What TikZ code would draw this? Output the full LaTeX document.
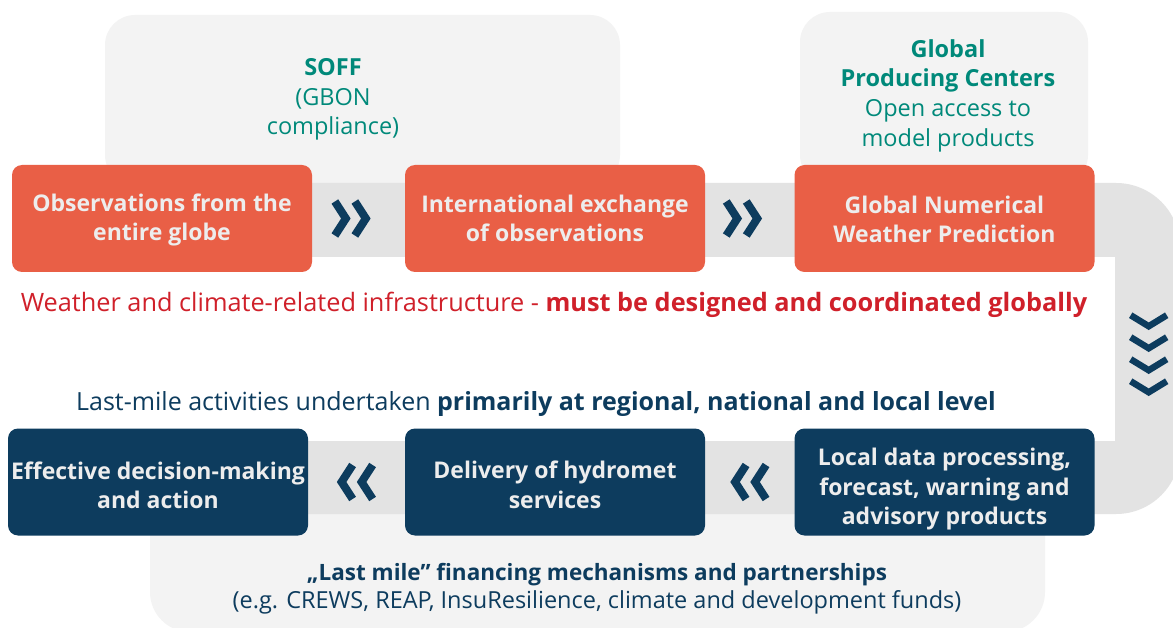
\documentclass[tikz,border=0pt]{standalone}
\usepackage{fontspec}
\setmainfont{Open Sans}
\usetikzlibrary{calc}
\definecolor{orng}{HTML}{E95F46}
\definecolor{navy}{HTML}{0D3C5E}
\definecolor{soffteal}{HTML}{00897A}
\definecolor{panelgrey}{HTML}{F3F3F3}
\definecolor{bandgrey}{HTML}{E3E3E3}
\definecolor{redtext}{HTML}{D0202A}
\definecolor{boxtext}{HTML}{EDEDED}
\newcommand{\lowerby}[1]{\rule{0pt}{\dimexpr 17.5pt+#1\relax}}
\tikzset{
  basebox/.style={rounded corners=10pt, minimum width=300pt, minimum height=107pt,
    align=center, text=boxtext, inner sep=2pt,
    font=\bfseries\fontsize{23}{29.5}\selectfont},
  obox/.style={basebox, fill=orng},
  nbox/.style={basebox, fill=navy},
  paneltext/.style={align=center, text=soffteal, font=\fontsize{23.5}{29.7}\selectfont},
  rchev/.pic={\draw[navy, line width=8pt, miter limit=10]
     (-19,-17) -- (-8,0) -- (-19,17) (1,-17) -- (12,0) -- (1,17);},
  dchev/.pic={\draw[navy, line width=6.5pt, miter limit=10]
     (-18,-6) -- (0,5) -- (18,-6);}
}
\begin{document}
\begin{tikzpicture}[x=1pt,y=-1pt]
\clip (0,0) rectangle (1173,628);
\fill[white] (0,0) rectangle (1173,628);
% panels
\fill[panelgrey, rounded corners=30pt] (105,15) rectangle (620,185);
\fill[panelgrey, rounded corners=30pt] (800,12) rectangle (1088,185);
\fill[panelgrey, rounded corners=40pt] (150,440) rectangle (1045,632);
% U-shaped band
\fill[bandgrey, rounded corners=64pt] (180,183) rectangle (1180,514);
\fill[white] (180,257) rectangle (1115,441);
% boxes
\node[obox] (b1) at (162,218.5) {\lowerby{3pt}Observations from the\\entire globe};
\node[obox] (b2) at (555,218.5) {International exchange\\of observations};
\node[obox] (b3) at (944.5,218.5) {\lowerby{2pt}Global Numerical\\Weather Prediction};
\node[nbox] (b4) at (944.5,482) {\lowerby{15pt}Local data processing,\\forecast, warning and\\advisory products};
\node[nbox] (b5) at (555,482) {\lowerby{6pt}Delivery of hydromet\\services};
\node[nbox] (b6) at (158,482) {\lowerby{7pt}Effective decision-making\\and action};
% panel texts
\node[paneltext] (soff) at (333,99.5) {\textbf{SOFF}\\(GBON\\compliance)};
\node[paneltext] (gpc) at (948,95.5) {\textbf{Global}\\\textbf{Producing Centers}\\Open access to\\model products};
% lines of text
\node[text=redtext, font=\fontsize{25.3}{30}\selectfont] (global) at (554,305)
  {Weather and climate-related infrastructure - \textbf{must be designed and coordinated globally}};
\node[text=navy, font=\fontsize{25}{30}\selectfont] (local) at (536,404)
  {Last-mile activities undertaken \textbf{primarily at regional, national and local level}};
\node[text=navy, align=center] (fin) at (597,589)
  {\fontsize{22.5}{29}\selectfont\textbf{„Last mile” financing mechanisms and partnerships}\\[4pt]
   \fontsize{23.5}{29}\selectfont(e.g. CREWS, REAP, InsuResilience, climate and development funds)};
% chevrons
\pic at ($(b1.east)!0.45!(b2.west)$) {rchev};
\pic at ($(b2.east)!0.45!(b3.west)$) {rchev};
\pic[xscale=-1] at ($(b6.east)!0.47!(b5.west)$) {rchev};
\pic[xscale=-1] at ($(b5.east)!0.47!(b4.west)$) {rchev};
\coordinate (dmid) at ($(b3.south east)!0.5!(b4.north east)+(54,0)$);
\foreach \dy in {-29,-7,15,37} {\pic at ($(dmid)+(0,\dy)$) {dchev};}
\end{tikzpicture}
\end{document}
